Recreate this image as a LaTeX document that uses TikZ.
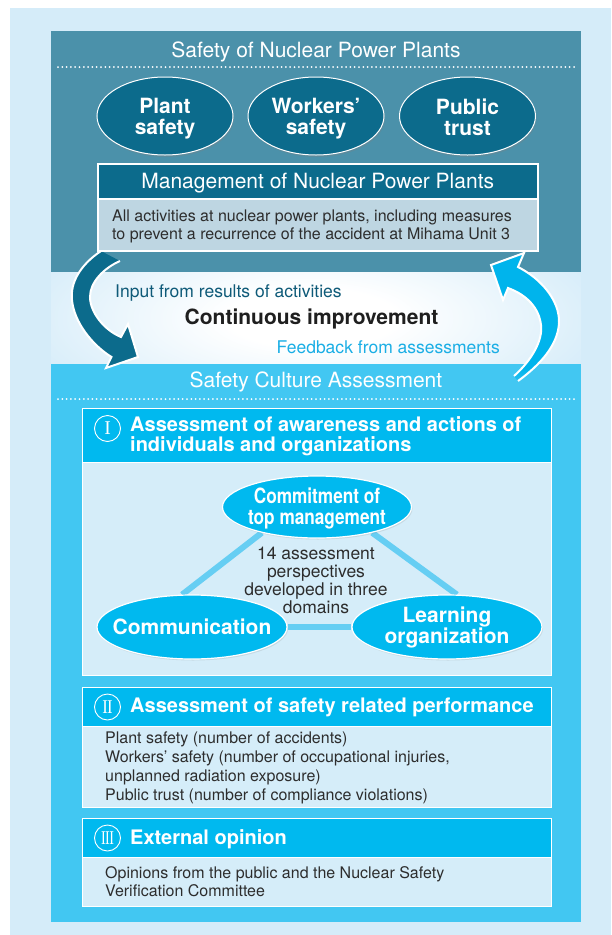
\documentclass[tikz,border=0pt]{standalone}
\usepackage{fontspec}
\setmainfont{TeX Gyre Heros}
\newfontfamily\condfont[FakeStretch=0.82]{TeX Gyre Heros}
\newfontfamily\romanfont{Liberation Serif}
\usetikzlibrary{shapes.geometric,shadows}

\definecolor{pagebg}{RGB}{213,236,249}
\definecolor{plantbox}{RGB}{75,145,170}
\definecolor{deepteal}{RGB}{12,107,140}
\definecolor{mgmtbody}{RGB}{190,214,226}
\definecolor{assessbox}{RGB}{66,199,242}
\definecolor{sechead}{RGB}{0,185,239}
\definecolor{secbody}{RGB}{213,237,249}
\definecolor{linkblue}{RGB}{102,206,243}
\definecolor{bodytext}{RGB}{45,45,45}
\definecolor{inputtext}{RGB}{14,90,120}
\definecolor{feedtext}{RGB}{26,174,229}
\definecolor{arrowcyan}{RGB}{0,180,236}

% soft white halo behind the centre caption
\pgfdeclareradialshading{halo}{\pgfpointorigin}{color(0bp)=(white); color(7bp)=(white); color(26bp)=(pagebg); color(50bp)=(pagebg)}
% arrow bodies that fade out at their tails
\pgfdeclareverticalshading{tealfade}{100bp}{color(0bp)=(deepteal); color(78bp)=(deepteal); color(100bp)=(deepteal!25!white)}
\pgfdeclareverticalshading{cyanfade}{100bp}{color(0bp)=(arrowcyan!8!white); color(30bp)=(arrowcyan); color(100bp)=(arrowcyan)}

\pgfdeclarelayer{front}
\pgfsetlayers{main,front}

\begin{document}
\begin{tikzpicture}[x=1pt,y=-1pt,
  dotline/.style={white, line width=2pt, line cap=round, dash pattern=on 0pt off 4.3pt},
  titletext/.style={text=white, font=\fontsize{21}{21}\selectfont},
  bigoval/.style={ellipse, fill=deepteal, draw=white, line width=1pt, inner sep=0pt,
    minimum width=136pt, minimum height=78pt,
    drop shadow={opacity=0.3, shadow xshift=1pt, shadow yshift=-2pt}},
  ovaltext/.style={inner sep=0pt, text=white, align=center,
    font=\fontsize{21}{21}\selectfont\bfseries},
  domainoval/.style={ellipse, fill=sechead, draw=white, line width=1.2pt, inner sep=0pt,
    minimum width=190pt, minimum height=64pt,
    drop shadow={opacity=0.18, shadow xshift=1pt, shadow yshift=-1.5pt}},
  headbar/.style={rectangle, fill=sechead, draw=white, line width=1.2pt, inner sep=0pt, anchor=north west},
  bodybar/.style={rectangle, fill=secbody, draw=white, line width=1.2pt, inner sep=0pt, anchor=north west},
  headtext/.style={anchor=west, inner sep=0pt, text=white, align=left,
    font=\fontsize{20}{19.5}\selectfont\bfseries},
  bodytxt/.style={anchor=west, inner sep=0pt, text=bodytext, align=left,
    font=\fontsize{16}{19}\selectfont},
  numeral/.style={circle, draw=white, line width=0.9pt, minimum size=26pt, inner sep=0pt,
    text=white, font=\romanfont\fontsize{19.5}{19.5}\selectfont},
  link/.style={linkblue, line width=6pt},
  arrowrim/.style={white, line width=2pt, line join=miter}
]
\useasboundingbox (0,0) rectangle (611,935);

% page background and the two main panels
\fill[pagebg] (10,8) rectangle (611,935);
\fill[plantbox] (51,31) rectangle (581,272);
\begin{scope}
  \clip (51,272) rectangle (581,364);
  \shade[shading=halo] (12,213) rectangle (612,423);
\end{scope}
\fill[assessbox] (51,364) rectangle (581,922);

% ---------- Safety of Nuclear Power Plants ----------
\node[titletext] (plantstitle) at (316,52) {Safety of Nuclear Power Plants};
\draw[dotline] (58,67) -- (574,67);

\node[bigoval] (plant)   at (165,116)   {};
\node[bigoval] (workers) at (316,116)   {};
\node[bigoval] (public)  at (467.5,116) {};
\node[ovaltext] at ([yshift=-3pt]plant.center)   {Plant\\safety};
\node[ovaltext] at ([yshift=-3pt]workers.center) {Workers’\\safety};
\node[ovaltext] at ([yshift=-3pt]public.center)  {Public\\trust\vphantom{y}};

% ---------- continuous improvement loop ----------
\shade[shading=tealfade] (101,251) .. controls (80,265) and (70,283) .. (72,300)
  .. controls (74,322) and (92,345) .. (111.5,357) -- (106,368) -- (138,357) -- (128,324)
  -- (121,337) .. controls (104,330) and (90,312) .. (90,297)
  .. controls (90,282) and (104,268) .. (120,261) -- cycle;
\draw[arrowrim] (120,261) .. controls (104,268) and (90,282) .. (90,297)
  .. controls (90,312) and (104,330) .. (121,337) -- (128,324) -- (138,357) -- (106,368)
  -- (111.5,357) .. controls (92,345) and (74,322) .. (72,300)
  .. controls (70,283) and (80,265) .. (101,251);

\shade[shading=cyanfade] (491,265) -- (524,253) -- (518,267)
  .. controls (540,278) and (560,300) .. (559,323)
  .. controls (558,345) and (540,365) .. (518,381) -- (514,376)
  .. controls (532,360) and (543,340) .. (541,325)
  .. controls (539,308) and (527,295) .. (508,288) -- (503,300) -- cycle;
\draw[arrowrim] (514,376) .. controls (532,360) and (543,340) .. (541,325)
  .. controls (539,308) and (527,295) .. (508,288) -- (503,300) -- (491,265) -- (524,253)
  -- (518,267) .. controls (540,278) and (560,300) .. (559,323)
  .. controls (558,345) and (540,365) .. (518,381);

\node[anchor=west, inner sep=0pt, text=inputtext, font=\fontsize{17.5}{17.5}\selectfont]
  (inputlbl) at (115,293) {Input from results of activities};
\node[inner sep=0pt, text=black!88, font=\fontsize{21}{21}\selectfont\bfseries]
  (improve) at (311.5,319) {Continuous improvement};
\node[anchor=east, inner sep=0pt, text=feedtext, font=\fontsize{17.5}{17.5}\selectfont]
  (feedlbl) at (500,347) {Feedback from assessments};

% ---------- Management of Nuclear Power Plants ----------
\node[rectangle, fill=deepteal, draw=white, line width=1.5pt, anchor=north west,
  minimum width=440pt, minimum height=35pt, inner sep=0pt] (mgmthead) at (97,163) {};
\node[titletext] (mgmttitle) at ([yshift=-2pt]mgmthead.center) {Management of Nuclear Power Plants};
\node[rectangle, fill=mgmtbody, draw=white, line width=1.5pt, anchor=north west,
  minimum width=440pt, minimum height=52pt, inner sep=0pt] (mgmtbody) at (97,198) {};
\node[anchor=west, inner sep=0pt, text=bodytext, align=left,
  font=\fontsize{16}{17.5}\selectfont] (mgmttext) at (112,226.5)
  {All activities at nuclear power plants, including measures\\to prevent a recurrence of the accident at Mihama Unit 3};

% ---------- Safety Culture Assessment ----------
\node[titletext] (assesstitle) at (316,382) {Safety Culture Assessment};
\draw[dotline] (58,399) -- (574,399);

% section I
\node[bodybar, minimum width=469pt, minimum height=267pt] (body1) at (82,408) {};
\node[headbar, minimum width=469pt, minimum height=54pt] (head1) at (82,408) {};
\node[numeral] (num1) at (107.5,428.5) {I};
\node[headtext] (title1) at (130,436) {Assessment of awareness and actions of\\individuals and organizations};

% the three domains sit on a front layer, their links run underneath
\begin{pgfonlayer}{front}
\node[domainoval, minimum width=189pt, minimum height=62pt] (commit) at (317,507) {};
\node[domainoval] (comm)  at (192,627) {};
\node[domainoval] (learn) at (447,627) {};
\node[ovaltext, font=\condfont\fontsize{21}{21}\selectfont\bfseries] at ([yshift=-1pt]commit.center) {Commitment of\\top management};
\node[ovaltext] at (comm.center) {Communication};
\node[ovaltext] at (learn.center) {Learning\\organization};
\end{pgfonlayer}
\draw[link] (commit.205) -- (comm.107);
\draw[link] (commit.335) -- (learn.73);
\draw[link] (comm.east) -- (learn.west);
\node[inner sep=0pt, text=bodytext, align=center, font=\fontsize{17.5}{18}\selectfont]
  (perspectives) at (316,580) {14 assessment\\perspectives\\developed in three\\domains};

% section II
\node[bodybar, minimum width=469pt, minimum height=120pt] (body2) at (82,687) {};
\node[headbar, minimum width=469pt, minimum height=39pt] (head2) at (82,687) {};
\node[numeral] (num2) at (107.5,707) {\scalebox{0.85}[1]{I\kern-0.8pt I}};
\node[headtext] (title2) at (130,707.5) {Assessment of safety related performance};
\node[bodytxt] (text2) at (105,768)
  {Plant safety (number of accidents)\\Workers’ safety (number of occupational injuries,\\unplanned radiation exposure)\\Public trust (number of compliance violations)};

% section III
\node[bodybar, minimum width=469pt, minimum height=88pt] (body3) at (82,818) {};
\node[headbar, minimum width=469pt, minimum height=39pt] (head3) at (82,818) {};
\node[numeral] (num3) at (107.5,838) {\scalebox{0.72}[1]{I\kern-0.8pt I\kern-0.8pt I}};
\node[headtext] (title3) at (130,839) {External opinion};
\node[bodytxt, font=\fontsize{16}{18}\selectfont] (text3) at (105,882)
  {Opinions from the public and the Nuclear Safety\\Verification Committee};
\end{tikzpicture}
\end{document}
